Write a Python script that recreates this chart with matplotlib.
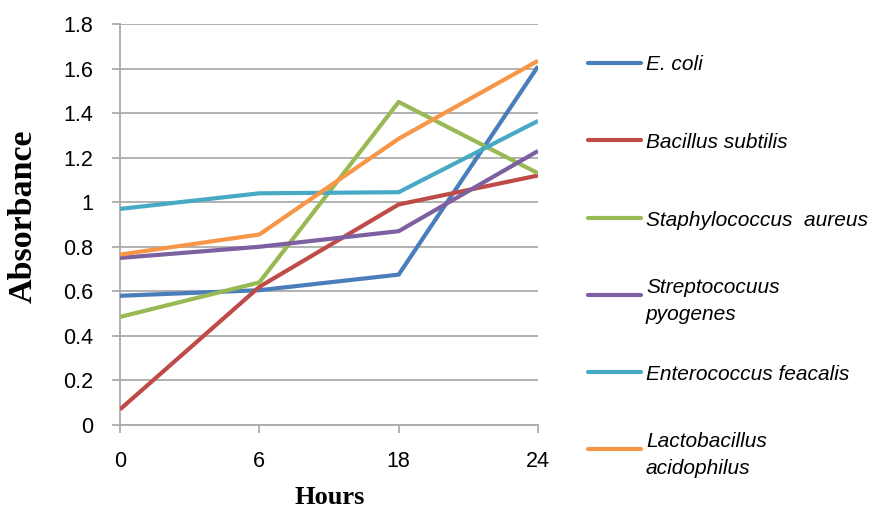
import numpy as np
import matplotlib
matplotlib.use("Agg")
import matplotlib.pyplot as plt
from matplotlib.lines import Line2D

# data
hours = ['0', '6', '18', '24']
e_coli = [0.58, 0.605, 0.675, 1.61]
b_subtilis = [0.07, 0.62, 0.99, 1.12]
s_aureus = [0.485, 0.64, 1.45, 1.13]
s_pyogenes = [0.75, 0.80, 0.87, 1.23]
e_faecalis = [0.97, 1.04, 1.045, 1.365]
l_acidophilus = [0.765, 0.855, 1.285, 1.635]

names = ['E. coli', 'Bacillus subtilis', 'Staphylococcus  aureus',
         'Streptococuus\npyogenes', 'Enterococcus feacalis',
         'Lactobacillus\nacidophilus']
series = [e_coli, b_subtilis, s_aureus, s_pyogenes, e_faecalis, l_acidophilus]
colors = ['#4A7EBB', '#BE4B48', '#98B954', '#7D60A0', '#46AAC5', '#F79646']

plt.rcParams['font.family'] = ['Liberation Sans', 'DejaVu Sans']

fig = plt.figure(figsize=(8.77, 5.12), dpi=100)
ax = fig.add_axes([120/877, 1-425/512, 418/877, 401/512])

x = np.arange(len(hours))
for vals, c in zip(series, colors):
    ax.plot(x, vals, color=c, lw=3.0, solid_capstyle='butt', zorder=3)

grey = '#ABABAB'
ax.set_xlim(0, len(hours)-1)
ax.set_ylim(0, 1.8)
ax.set_yticks(np.arange(0, 1.81, 0.2))
ax.set_yticklabels(['0', '0.2', '0.4', '0.6', '0.8', '1', '1.2', '1.4', '1.6', '1.8'])
ax.set_xticks(x)
ax.set_xticklabels(hours)
ax.grid(axis='y', color=grey, lw=1.3)
ax.set_axisbelow(True)
for s in ['right', 'top']:
    ax.spines[s].set_visible(False)
for s in ['left', 'bottom']:
    ax.spines[s].set_color(grey)
    ax.spines[s].set_linewidth(1.3)
ax.tick_params(axis='x', direction='out', length=5.5, color=grey, width=1.3,
               labelsize=15.5, pad=13)
ax.tick_params(axis='y', direction='out', length=5.5, color=grey, width=1.3,
               labelsize=15.5, pad=14)

fig.text(330/877, 1-498/512, 'Hours', family=['Liberation Serif'], weight='bold',
         fontsize=19, ha='center', va='center')
fig.text(23/877, 1-216/512, 'Absorbance', family=['Liberation Serif'], weight='bold',
         fontsize=24.5, ha='center', va='center', rotation=90)

# legend drawn by hand
leg_y = [63, 140, 218, 295, 372, 449]
for name, c, yy in zip(names, colors, leg_y):
    fy = 1 - yy/512
    fig.add_artist(Line2D([588/877, 641/877], [fy, fy], color=c, lw=3.0,
                          solid_capstyle='round'))
    fig.text(646/877, fy, name, style='italic', fontsize=15, ha='left',
             va='center_baseline', linespacing=1.5)

fig.savefig('out.png', dpi=100)
